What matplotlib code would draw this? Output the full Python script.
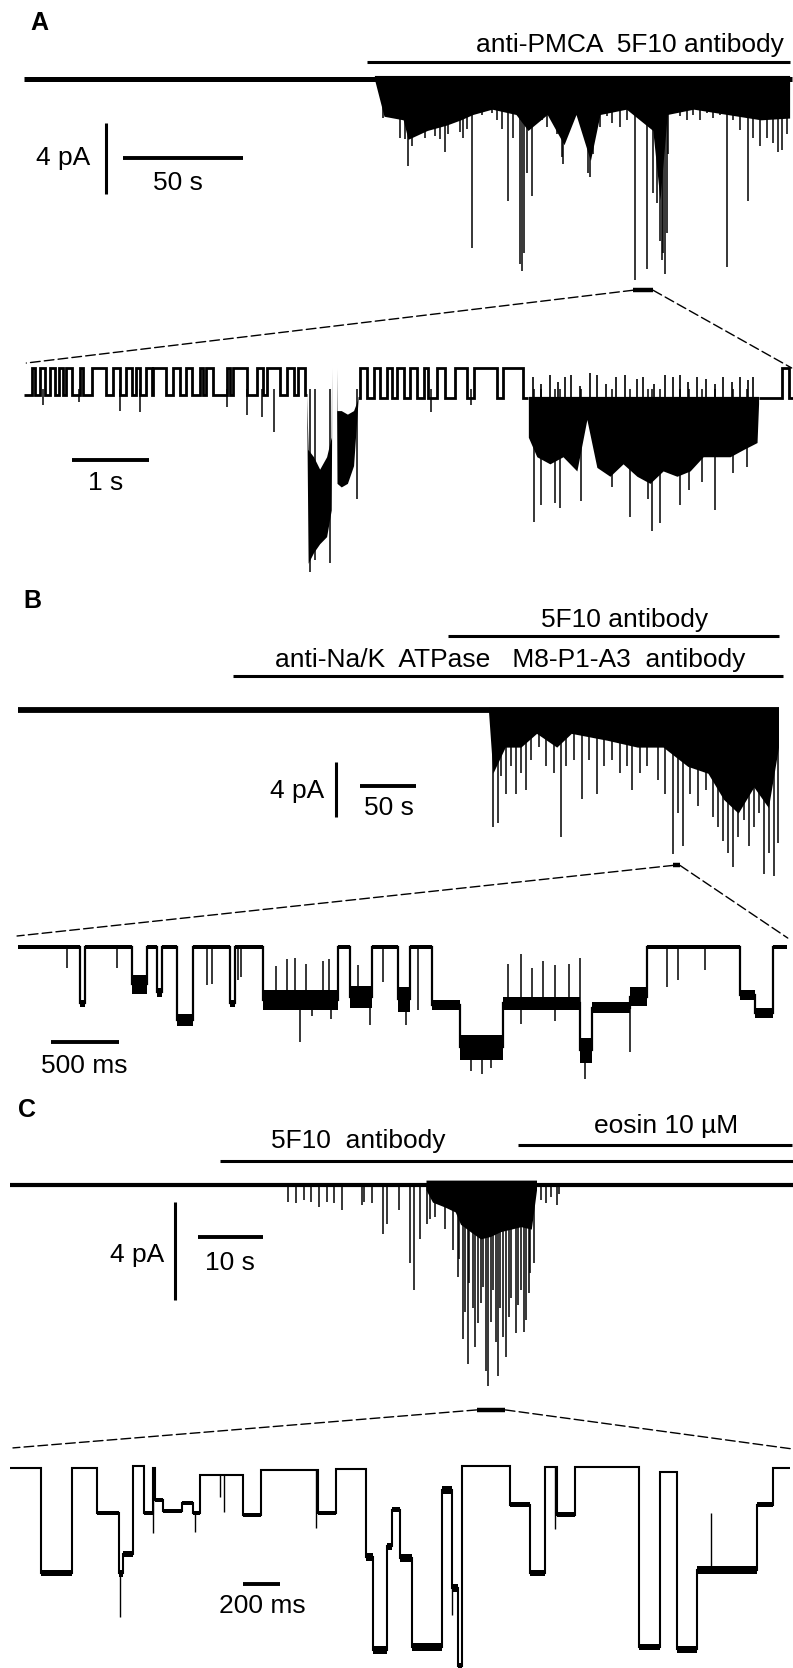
import numpy as np
import matplotlib
matplotlib.use("Agg")
import matplotlib.pyplot as plt
from matplotlib.patches import ConnectionPatch

plt.rcParams['font.family'] = ['Liberation Sans', 'DejaVu Sans']
plt.rcParams['font.size'] = 19

W, H = 793, 1668

# ---------------- data: time in s, current in pA (0 = all channels closed) ----------------

# A, whole recording
a_len = 320
a_drug = [143, 319]
a_mass_t = [146, 150, 158, 160, 168, 176, 182, 187, 195, 205, 210, 218, 225, 230, 236, 240,
            251, 262, 265, 268, 279, 293, 307, 319]
a_mass_lo = [0, -2.1, -2.3, -3.4, -2.9, -2.6, -2.3, -2.0, -1.7, -2.0, -2.9, -2.0, -3.7, -2.0,
             -4.6, -2.0, -1.7, -2.9, -6.8, -2.0, -1.7, -2.0, -2.3, -2.2]
a_spk_t = [149.7, 151.8, 153.2, 156.7, 158.8, 160.1, 161.5, 163.6, 165.7, 167.1,
           169.2, 171.3, 173.3, 175.4, 176.8, 178.9, 181.7, 183.1, 184.4, 186.5,
           188.6, 190.7, 192.8, 194.9, 196.9, 199.0, 201.8, 203.9, 206.7, 207.6,
           208.5, 209.4, 211.5, 213.6, 215.7, 217.8, 219.9, 221.9, 224.0, 224.7,
           226.8, 228.9, 231.7, 235.1, 235.8, 237.2, 240.0, 242.8, 244.9, 248.3,
           251.1, 254.6, 256.7, 259.4, 262.2, 263.6, 265.0, 265.7, 266.4, 267.1,
           267.8, 268.5, 271.3, 273.3, 276.1, 278.9, 281.7, 284.4, 287.2, 290.0,
           292.8, 295.6, 298.3, 301.8, 303.9, 306.7, 309.4, 312.2, 314.3, 315.7,
           317.8]
a_spk_i = [-2.2, -1.9, -2.0, -3.3, -3.4, -4.9, -3.8, -3.0, -2.9, -3.3,
           -2.7, -3.2, -3.4, -4.1, -3.1, -2.0, -3.0, -3.3, -2.8, -9.5,
           -1.8, -2.0, -1.8, -1.9, -2.3, -2.8, -6.9, -3.3, -10.4, -10.8,
           -9.8, -5.3, -6.6, -2.1, -2.3, -2.7, -2.2, -3.1, -4.4, -4.8,
           -3.1, -2.3, -1.2, -5.3, -5.5, -4.2, -2.7, -2.1, -2.5, -2.7,
           -2.3, -11.3, -2.1, -10.7, -6.4, -7.0, -9.1, -10.2, -9.8, -11.0,
           -8.7, -4.2, -1.9, -2.1, -2.3, -2.0, -2.3, -1.9, -2.2, -2.0,
           -10.6, -2.3, -2.9, -6.9, -3.3, -3.8, -3.3, -3.6, -4.1, -4.0,
           -3.1]
a_mark = [253.8, 262.1]

# A, expanded 10 s stretch
a2_len = 10.0
a2_flicker = [(0.0, 3.67, -1.5), (4.34, 6.55, -1.7), (9.54, 10.0, -1.7)]
a2_closed = [(0.10, 0.14), (0.21, 0.27), (0.34, 0.40), (0.45, 0.51), (0.55, 0.62), (0.73, 0.77),
             (0.88, 1.07), (1.16, 1.25), (1.33, 1.40), (1.46, 1.51), (1.59, 1.66), (1.68, 1.85),
             (1.94, 2.03), (2.11, 2.18), (2.29, 2.33), (2.37, 2.46), (2.63, 2.68), (2.72, 2.89),
             (3.02, 3.11), (3.15, 3.32), (3.41, 3.50), (3.56, 3.65),
             (4.36, 4.45), (4.54, 4.62), (4.71, 4.78), (4.84, 4.93), (5.01, 5.10), (5.19, 5.25),
             (5.36, 5.47), (5.60, 5.75), (5.84, 6.14), (6.22, 6.48), (9.53, 9.73), (9.84, 9.93)]
a2_b1_t = [3.67, 3.69, 3.76, 3.84, 3.93, 3.99, 3.995]
a2_b1_hi = [-1.5, -4.6, -5.0, -5.7, -5.0, -3.9, 0.0]
a2_b1_lo = [-1.5, -11.0, -10.4, -9.9, -9.5, -8.0, -3.9]
a2_b2_t = [4.06, 4.065, 4.12, 4.20, 4.28, 4.34]
a2_b2_hi = [0.0, -2.4, -2.4, -2.6, -2.4, -1.7]
a2_b2_lo = [-2.4, -6.5, -6.7, -6.5, -5.5, -1.7]
a2_b3_t = [6.55, 6.66, 6.83, 7.00, 7.18, 7.31, 7.44, 7.61, 7.78, 7.96, 8.13, 8.30, 8.48,
           8.65, 8.82, 9.00, 9.17, 9.34, 9.52, 9.54]
a2_b3_lo = [-3.9, -5.0, -5.4, -5.0, -5.8, -2.9, -5.6, -6.1, -5.4, -6.1, -6.5, -5.8, -6.1,
            -5.8, -5.0, -5.0, -5.0, -4.6, -4.2, -2.0]
a2_b3_hi = -1.6
a2_spk_t = [0.25, 0.71, 1.25, 1.50, 2.63, 2.89, 3.09, 3.25, 3.71, 3.78, 3.97, 4.32, 5.29, 5.81,
            6.62, 6.72, 6.89, 6.96, 7.23, 7.63, 7.87, 8.11, 8.15, 8.26, 8.52, 8.63, 8.80, 8.97,
            9.21, 9.39]
a2_spk_i = [-2.1, -1.9, -2.4, -2.5, -2.2, -2.65, -2.75, -3.6, -11.5, -10.8, -11.0, -7.4, -2.5,
            -2.1, -8.7, -7.7, -7.6, -7.9, -7.5, -6.7, -8.4, -7.4, -9.2, -8.75, -7.7, -6.9, -6.4,
            -8.0, -5.9, -5.6]
a2_up_t = [6.61, 6.72, 6.83, 6.93, 7.03, 7.11, 7.22, 7.35, 7.44, 7.56, 7.69, 7.81, 7.96, 8.04,
           8.18, 8.32, 8.43, 8.52, 8.62, 8.74, 8.86, 8.97, 9.08, 9.19, 9.30, 9.40, 9.47]
a2_up_i = [-0.5, -0.9, -0.4, -0.8, -0.5, -0.4, -1.0, -0.3, -0.4, -0.9, -0.5, -0.4, -0.6, -0.5,
           -0.9, -0.4, -0.5, -0.4, -0.8, -0.5, -0.6, -0.9, -0.5, -0.8, -0.5, -0.7, -0.5]

# B, whole recording
b_len = 679.5
b_drug1 = [384, 679.5]     # 5F10
b_drug2 = [192, 683]       # anti-Na/K ATPase
b_mass_t = [420, 424, 435, 449, 463, 481, 494, 526, 553, 576, 598, 616, 630, 643, 657, 670, 679]
b_mass_lo = [0, -4.6, -2.7, -2.7, -1.7, -2.7, -1.7, -2.2, -2.7, -2.7, -4.1, -4.6, -6.5, -7.5,
             -5.6, -7.1, -2.7]
b_spk_t = [424.3, 428.8, 431.0, 435.5, 440.1, 444.6, 449.1, 453.6, 458.1, 464.9,
           471.7, 478.4, 485.2, 489.7, 496.5, 503.3, 510.1, 516.8, 523.6, 530.4,
           537.2, 543.9, 548.5, 555.2, 562.0, 571.0, 577.8, 584.6, 589.1, 593.6,
           600.4, 607.2, 614.0, 620.7, 625.2, 629.8, 634.3, 638.8, 643.3, 647.8,
           652.3, 656.9, 661.4, 665.9, 670.4, 674.9, 678.5]
b_spk_i = [-8.5, -8.2, -4.8, -6.1, -4.1, -6.1, -4.6, -5.8, -3.6, -2.7,
           -4.1, -4.6, -9.2, -4.1, -3.6, -6.5, -3.6, -6.1, -4.1, -3.6,
           -4.6, -4.1, -5.8, -4.6, -4.1, -5.1, -6.1, -10.5, -7.5, -9.9,
           -6.1, -7.0, -5.8, -7.8, -8.5, -9.5, -10.4, -11.4, -9.2, -8.0,
           -9.9, -8.5, -7.5, -11.9, -10.4, -12.1, -9.7]
b_mark = [585, 591]

# B, expanded stretch: dwell edges, dwell levels, noise half-width
b2_edges = [0, 0.456, 0.493, 0.838, 0.949, 1.022, 1.059, 1.169, 1.287, 1.559, 1.596, 1.801,
            2.353, 2.441, 2.603, 2.794, 2.882, 3.044, 3.25, 3.566, 4.132, 4.221, 4.5, 4.625,
            5.309, 5.419, 5.551, 5.654]
b2_levels = [0, -4.1, 0, -2.7, 0, -3.3, 0, -5.3, 0, -4.1, 0, -3.85, 0, -3.6, 0, -3.8, 0, -4.2,
             -7.3, -4.1, -7.5, -4.4, -3.6, 0, -3.5, -4.8, 0]
b2_noise = [0.12, 0.25, 0.12, 0.7, 0.12, 0.3, 0.12, 0.45, 0.12, 0.25, 0.12, 0.7, 0.12, 0.8, 0.12,
            0.9, 0.12, 0.35, 0.9, 0.5, 0.9, 0.4, 0.7, 0.12, 0.35, 0.35, 0.12]
b2_spk_t = [0.358, 0.726, 1.387, 1.424, 1.62, 1.637, 2.074, 2.16, 2.30, 2.588, 2.681, 2.853,
            2.94, 3.33, 3.41, 3.48, 3.70, 3.95, 4.17, 4.5, 4.77, 4.855, 5.051]
b2_spk_i = [-1.55, -1.55, -2.76, -2.67, -2.42, -2.18, -6.9, -5.0, -5.2, -5.7, -2.55, -5.7, -4.6,
            -9.0, -9.2, -8.8, -5.6, -5.4, -9.6, -7.6, -2.9, -2.4, -1.7]
b2_up_t = [1.90, 1.98, 2.04, 2.12, 2.24, 2.29, 2.50, 3.60, 3.70, 3.78, 3.86, 3.95, 4.05, 4.13]
b2_up_i = [-1.4, -0.9, -0.8, -1.2, -1.0, -0.9, -1.3, -1.2, -0.5, -1.5, -1.0, -1.3, -1.2, -0.8]

# C, whole recording
c_len = 120.5
c_drug1 = [32.3, 120.5]    # 5F10
c_drug2 = [78.2, 120.3]    # eosin
c_mass_t = [64.0, 65.0, 66.9, 68.5, 69.3, 70.8, 72.4, 73.9, 75.5, 77.1, 78.6, 80.2, 81.0]
c_mass_lo = [-0.2, -0.7, -0.9, -1.1, -1.6, -1.9, -2.2, -2.1, -1.9, -1.8, -1.7, -1.8, -0.2]
c_spk_t = [42.8, 44.0, 45.2, 46.3, 47.5, 48.7, 49.8, 51.0, 54.1, 54.5,
           55.7, 57.4, 58.0, 59.9, 61.6, 62.1, 63.0, 64.2, 64.6, 65.4,
           66.9, 68.1, 68.9, 69.0, 69.7, 70.0, 70.4, 70.6, 71.2, 71.6,
           72.0, 72.4, 72.8, 73.2, 73.6, 74.0, 74.3, 74.7, 75.1, 75.4,
           75.9, 76.3, 76.8, 77.1, 77.8, 78.2, 78.6, 79.0, 79.4, 79.8,
           80.0, 80.6, 81.7, 82.5, 83.3, 84.1, 84.4]
c_spk_i = [-0.7, -0.75, -0.6, -0.7, -0.9, -0.7, -0.75, -1.0, -0.8, -0.7,
           -0.75, -2.0, -1.6, -1.0, -3.2, -4.3, -2.2, -1.6, -1.4, -1.3,
           -1.8, -2.65, -3.75, -3.0, -6.3, -5.2, -7.3, -4.0, -5.0, -6.6,
           -5.65, -4.8, -4.15, -7.6, -8.2, -5.6, -4.3, -6.4, -7.8, -5.0,
           -6.2, -7.0, -5.4, -4.6, -6.05, -4.9, -4.3, -6.0, -5.5, -4.4,
           -3.6, -3.2, -0.6, -0.75, -0.5, -0.8, -0.35]
c_mark = [71.8, 76.2]

# C, expanded stretch
c2_edges = [0, 0.168, 0.335, 0.470, 0.589, 0.611, 0.665, 0.724, 0.773, 0.784, 0.827, 0.930,
            0.989, 1.027, 1.259, 1.357, 1.665, 1.762, 1.924, 1.962, 2.038, 2.065, 2.108, 2.173,
            2.335, 2.389, 2.422, 2.443, 2.703, 2.811, 2.892, 2.957, 3.054, 3.4, 3.514, 3.605,
            3.714, 4.038, 4.124, 4.216]
c2_levels = [0, -4.3, 0, -1.84, -4.3, -3.5, 0.1, -1.84, 0, -1.3, -1.76, -1.43, -1.84, -0.29,
             -1.92, -0.08, -1.84, -0.04, -3.63, -7.43, -3.2, -1.7, -3.67, -7.3, -0.9, -4.9,
             -8.1, 0.08, -1.5, -4.3, 0.04, -1.9, 0.04, -7.3, -0.16, -7.4, -4.16, -1.5, 0]
c2_noise = [0.04, 0.12, 0.04, 0.08, 0.15, 0.12, 0.04, 0.08, 0.04, 0.08, 0.08, 0.08, 0.08, 0.04,
            0.08, 0.04, 0.08, 0.04, 0.15, 0.15, 0.15, 0.1, 0.15, 0.15, 0.15, 0.15, 0.15, 0.04, 0.1,
            0.12, 0.04, 0.1, 0.04, 0.12, 0.05, 0.15, 0.15, 0.1, 0.04]
c2_spk_t = [0.592, 0.773, 1.0, 1.135, 1.157, 1.654, 2.39, 2.946, 3.787]
c2_spk_i = [-6.1, -2.65, -2.6, -1.2, -1.8, -2.45, -6.0, -2.5, -1.84]


# ---------------- drawing ----------------
fig = plt.figure(figsize=(W / 100, H / 100), dpi=100)


def trace_axes(x0, sx, y0, sy):
    # transparent axes over the whole page: t=0 at pixel x0, I=0 at pixel row y0,
    # sx pixels per second, sy pixels per pA
    ax = fig.add_axes([0, 0, 1, 1])
    ax.set_xlim(-x0 / sx, (W - x0) / sx)
    ax.set_ylim((y0 - H) / sy, y0 / sy)
    ax.axis('off')
    return ax


def px_text(x, y, s, ha='center', **kw):
    fig.text(x / W, 1 - y / H, s, ha=ha, va='baseline', **kw)


def draw_overview(ax, length, mass_t, mass_lo, spk_t, spk_i, base_lw):
    ax.plot([0, length], [0, 0], color='k', lw=base_lw, solid_capstyle='butt')
    ax.fill_between(mass_t, 0.2, mass_lo, color='k', lw=0)
    ax.vlines(spk_t, 0, spk_i, color='k', lw=1.1)


def level_at(edges, levels, t):
    idx = np.clip(np.searchsorted(edges, t, side='right') - 1, 0, len(levels) - 1)
    return np.asarray(levels)[idx]


def draw_dwells(ax, edges, levels, noise, lw):
    ax.stairs(levels, edges, baseline=None, color='k', lw=lw)
    for i, lev in enumerate(levels):
        ax.fill_between([edges[i], edges[i + 1]], lev - noise[i], lev + noise[i], color='k', lw=0)


def flicker(t0, t1, low, closed):
    edges, levels = [t0], []
    for a, b in closed:
        if t0 <= a and b <= t1:
            levels += [low, 0.0]
            edges += [a, b]
    levels.append(low)
    edges.append(t1)
    return edges, levels


def zoom_lines(ax_top, mark, mark_i, ax_zoom, left, right):
    ax_top.plot(mark, [mark_i, mark_i], color='k', lw=3.2, solid_capstyle='butt')
    for pa, pb in [((mark[0], mark_i), left), ((mark[1], mark_i), right)]:
        con = ConnectionPatch(xyA=pa, coordsA=ax_top.transData, xyB=pb, coordsB=ax_zoom.transData,
                              color='k', lw=1.0, linestyle=(0, (7, 3)))
        fig.add_artist(con)


def bar(ax, t0, t1, i0, i1, lw=2.2):
    ax.plot([t0, t1], [i0, i1], color='k', lw=lw, solid_capstyle='butt')


# ---- A ----
axA = trace_axes(24, 2.4, 79, 17.75)
draw_overview(axA, a_len, a_mass_t, a_mass_lo, a_spk_t, a_spk_i, 3.6)
bar(axA, a_drug[0], a_drug[1], 0.96, 0.96)
bar(axA, 34.2, 34.2, -2.48, -6.48)          # 4 pA
bar(axA, 41.25, 91.25, -4.45, -4.45, 2.8)   # 50 s

axA2 = trace_axes(24, 77, 368, 17.75)
for t0, t1, low in a2_flicker:
    e, l = flicker(t0, t1, low, a2_closed)
    axA2.stairs(l, e, baseline=None, color='k', lw=2.0)
axA2.fill_between(a2_b1_t, a2_b1_hi, a2_b1_lo, color='k', lw=0)
axA2.fill_between(a2_b2_t, a2_b2_hi, a2_b2_lo, color='k', lw=0)
axA2.fill_between(a2_b3_t, a2_b3_hi, a2_b3_lo, color='k', lw=0)
axA2.vlines(a2_spk_t, -1.2, a2_spk_i, color='k', lw=1.1)
axA2.vlines(a2_up_t, -1.8, a2_up_i, color='k', lw=1.2)
bar(axA2, 0.623, 1.623, -5.18, -5.18, 2.8)  # 1 s
zoom_lines(axA, a_mark, -11.9, axA2, (0.03, 0.28), (9.97, 0.0))

px_text(30, 30, 'A', ha='left', fontsize=18, fontweight='bold')
px_text(630, 52, 'anti-PMCA  5F10 antibody')
px_text(90, 165, '4 pA', ha='right')
px_text(178, 190, '50 s')
px_text(106, 490, '1 s')

# ---- B ----
axB = trace_axes(18, 1.12, 710, 13.75)
draw_overview(axB, b_len, b_mass_t, b_mass_lo, b_spk_t, b_spk_i, 4.2)
bar(axB, b_drug1[0], b_drug1[1], 5.38, 5.38)
bar(axB, b_drug2[0], b_drug2[1], 2.47, 2.47)
bar(axB, 283.9, 283.9, -3.78, -7.78)
bar(axB, 305.4, 355.4, -5.53, -5.53, 2.8)

axB2 = trace_axes(18, 136, 947, 13.75)
draw_dwells(axB2, b2_edges, b2_levels, b2_noise, 1.6)
axB2.vlines(b2_spk_t, level_at(b2_edges, b2_levels, b2_spk_t), b2_spk_i, color='k', lw=1.1)
axB2.vlines(b2_up_t, level_at(b2_edges, b2_levels, b2_up_t), b2_up_i, color='k', lw=1.1)
bar(axB2, 0.243, 0.743, -6.91, -6.91, 2.8)  # 500 ms
zoom_lines(axB, b_mark, -11.3, axB2, (-0.007, 0.8), (5.66, 0.65))

px_text(23, 608, 'B', ha='left', fontsize=18, fontweight='bold')
px_text(625, 627, '5F10 antibody')
px_text(510, 667, 'anti-Na/K  ATPase   M8-P1-A3  antibody')
px_text(324, 798, '4 pA', ha='right')
px_text(389, 815, '50 s')
px_text(84, 1073, '500 ms')

# ---- C ----
axC = trace_axes(10, 6.5, 1185, 24.5)
draw_overview(axC, c_len, c_mass_t, c_mass_lo, c_spk_t, c_spk_i, 3.0)
bar(axC, c_drug1[0], c_drug1[1], 0.98, 0.98)
bar(axC, c_drug2[0], c_drug2[1], 1.63, 1.63)
bar(axC, 25.4, 25.4, -0.69, -4.69)
bar(axC, 28.9, 38.9, -2.12, -2.12, 2.8)

axC2 = trace_axes(10, 185, 1468, 24.5)
draw_dwells(axC2, c2_edges, c2_levels, c2_noise, 1.5)
axC2.vlines(c2_spk_t, level_at(c2_edges, c2_levels, c2_spk_t), c2_spk_i, color='k', lw=1.0)
bar(axC2, 1.259, 1.459, -4.73, -4.73, 2.8)  # 200 ms
zoom_lines(axC, c_mark, -9.18, axC2, (0.016, 0.82), (4.227, 0.78))

px_text(18, 1117, 'C', ha='left', fontsize=18, fontweight='bold')
px_text(358, 1148, '5F10  antibody')
px_text(666, 1133, 'eosin 10 µM')
px_text(164, 1262, '4 pA', ha='right')
px_text(230, 1270, '10 s')
px_text(262, 1613, '200 ms')

fig.savefig('out.png', dpi=100)
